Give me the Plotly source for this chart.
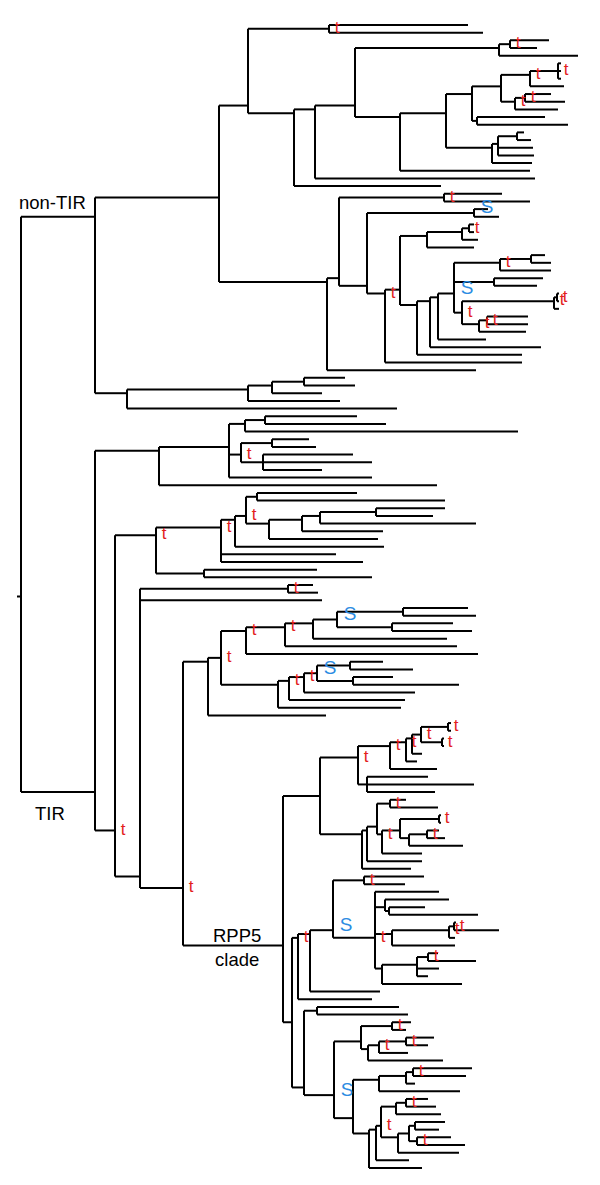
import re
import plotly.graph_objects as go

# ---------------- tree data (Newick pieces, branch lengths) ----------------
# non-TIR clade
nt_x501 = "(((:3,:3,:3)t:28,:34)t:29,((:26,:40)t:10,:43)t:14):29"
nt_x472 = f"({nt_x501},(:68,:91):5):26"
nt_n8 = "(((:7,:14):19,:35,:36):6,:40):46"
nt_n6 = f"(({nt_x472},{nt_n8}):46,:130):45"
nt_n2 = f"((:139,:154)t:81,(((((:39,:27)t:11,:79):144,{nt_n6}):40,:220):21,:147):46):29"
nt_x1180 = "(((:14,:20):31,:51)t:46,(:49,:43):40,(((:2,:2)t:3,:5)t:92,((:41,:41)t:8,:47)t:17)t:8)S:16"
nt_x1000 = f"(((((:5,:5)t:7,:16):35,:47):27,((({nt_x1180},:48):8,:111):13,:105):17):15,:137)t:18"
nt_a = f"({nt_n2},(((:58,:86)t:105,((:14,:25)S:107,{nt_x1000}):28):12,:149):108):124"
nt_x330 = "((((:41,:51):32,:50):24,:92):121,:270):32"
non_tir = f"({nt_a},{nt_x330})NT:74"

# TIR clade
tir_x413 = "((((:92,:121):20,:273):16,((:37,:44):31,(:90,:109,:59):22)t:12,:143):70,:278):64"
tir_x405 = "(((((:100,:188):11,((((:69,:57):56,:156):18,:81):33,:109):23)t:11,:149):14,:115,:142)t:65,(:113,:168):48)t:41"
tir_x640 = "(((((:65,:73):66,(:61,:80):55)S:24,:134):28,:172)t:39,:232)t:25"
tir_x722 = "(((((:33,:63):33,(:40,:106):36)S:13,:111)t:15,:116)t:11,:123):57"
tir_x540 = f"(({tir_x640},{tir_x722})t:13,:118):25"
tir_x930 = "((((((:3,:3)t:27,(:2,:2)t:21)t:9,:10):6,:11)t:16,:47)t:32,(:61,:107,:68):9)t:38"
tir_x942 = "((((:16,:48)t:13,(((:2,:2)t:39,((:12,:18)t:18,:54):9):18,:40)t:5):10,:55):5,:49):42"
tir_x833 = f"({tir_x930},{tir_x942}):37"
tir_x975 = "(:64,(:64,(:36,:89):4):10,(((:2,:45)t:5,:6)t:57,:63):17,(((:10,:48)t:11,:22,:11):35,:80):7)t:42"
tir_x775 = f"((((:60,:41)t:31,{tir_x975})S:23,:70):12,:74)t:6"
tir_x990 = "(((:22,:30)t:10,:45):15,(((:30,:24):6,(:34,:48)t:8):11,:61):17)t:5"
tir_x868 = f"(((:19,:14)t:31,(((:28,:22)t:27,:29)t:11,:75):7):27,((((:59,:53)t:7,:9):27,:81):26,(({tir_x990},:33):7,:53):16):19)S:30"
tir_x760 = f"({tir_x775},((:82,:91):13,{tir_x868}):12):9"
tir_x735 = f"({tir_x833},{tir_x760})RPP5:100"
tir_x365 = f"((:25,:30)t:148,:182,({tir_x540},{tir_x735})t:43):25"
tir = f"({tir_x413},({tir_x405},{tir_x365})t:20)TIR:74"

tree_newick = f"({non_tir},{tir}):4;"

clade_names = ["NT", "TIR", "RPP5"]
clade_texts = ["non-TIR", "TIR", "RPP5<br>clade"]
mark_names = ["t", "S"]
mark_colors = ["#e3201c", "#2b8ce2"]


# ---------------- parse & layout ----------------
def parse_newick(s):
    s = s.strip().rstrip(";")
    pos = 0

    def node():
        nonlocal pos
        ch = []
        if s[pos] == "(":
            pos += 1
            while True:
                ch.append(node())
                c = s[pos]
                pos += 1
                if c == ")":
                    break
        m = re.match(r"[^:,()]*", s[pos:])
        name = m.group(0)
        pos += len(name)
        length = 0.0
        if pos < len(s) and s[pos] == ":":
            pos += 1
            m = re.match(r"[0-9.eE+-]+", s[pos:])
            length = float(m.group(0))
            pos += len(m.group(0))
        return {"name": name.strip(), "len": length, "children": ch}

    return node()


root = parse_newick(tree_newick)
nodes = []
counter = [0]


def layout(n, px, parent):
    n["x"] = px + n["len"]
    n["parent"] = parent
    nodes.append(n)
    if not n["children"]:
        n["y"] = counter[0]
        counter[0] += 1
        n["leafys"] = [n["y"]]
    else:
        ys = []
        for c in n["children"]:
            layout(c, n["x"], n)
            ys += c["leafys"]
        n["leafys"] = ys
        n["y"] = sum(ys) / len(ys)


layout(root, 0.0, None)
n_leaves = counter[0]

xs, ys = [], []
for n in nodes:
    px = n["parent"]["x"] if n["parent"] else 0.0
    xs += [px, n["x"], None]
    ys += [n["y"], n["y"], None]
    if n["children"]:
        cy = [c["y"] for c in n["children"]]
        xs += [n["x"], n["x"], None]
        ys += [min(cy), max(cy), None]

fig = go.Figure()
fig.add_trace(go.Scatter(x=xs, y=ys, mode="lines",
                         line=dict(color="black", width=2),
                         hoverinfo="skip", showlegend=False))

FONT = "Liberation Sans, Arial, sans-serif"
for mk, col in zip(mark_names, mark_colors):
    sel = [n for n in nodes if n["name"] == mk]
    if mk == "t":
        tx = [n["x"] + 8 for n in sel]
        ty = [n["y"] for n in sel]
        size = 17
    else:
        tx = [n["x"] + 13 for n in sel]
        ty = [n["y"] - 0.55 for n in sel]
        size = 19
    fig.add_trace(go.Scatter(x=tx, y=ty, mode="text", text=[mk] * len(sel),
                             textposition="middle center",
                             textfont=dict(family=FONT, size=size, color=col),
                             hoverinfo="skip", showlegend=False))

byname = {n["name"]: n for n in nodes if n["name"] in clade_names}
for key, txt in zip(clade_names, clade_texts):
    n = byname[key]
    mid = (n["parent"]["x"] + n["x"]) / 2
    if key == "NT":
        fig.add_annotation(x=mid - 6, y=n["y"], text=txt, showarrow=False,
                           xanchor="center", yanchor="bottom", yshift=2,
                           font=dict(family=FONT, size=18.5, color="black"))
    elif key == "TIR":
        fig.add_annotation(x=mid - 8, y=n["y"], text=txt, showarrow=False,
                           xanchor="center", yanchor="top", yshift=-9,
                           font=dict(family=FONT, size=18.5, color="black"))
    else:
        fig.add_annotation(x=mid + 4, y=n["y"], text=txt, showarrow=False,
                           xanchor="center", yanchor="middle", yshift=-2,
                           font=dict(family=FONT, size=18.5, color="black"))

W, H = 600, 1185
top_px, bot_px = 25.0, 1168.0
sp = (bot_px - top_px) / (n_leaves - 1)
y_top = -top_px / sp
y_bot = (H - top_px) / sp

fig.update_layout(
    width=W, height=H, margin=dict(l=0, r=0, t=0, b=0),
    paper_bgcolor="white", plot_bgcolor="white",
    xaxis=dict(visible=False, range=[-17, W - 17], fixedrange=True),
    yaxis=dict(visible=False, range=[y_bot, y_top], fixedrange=True),
)
fig.write_html("out.html", config={"displayModeBar": False},
               post_script="document.body.style.margin='0px';document.body.style.overflow='hidden';")
